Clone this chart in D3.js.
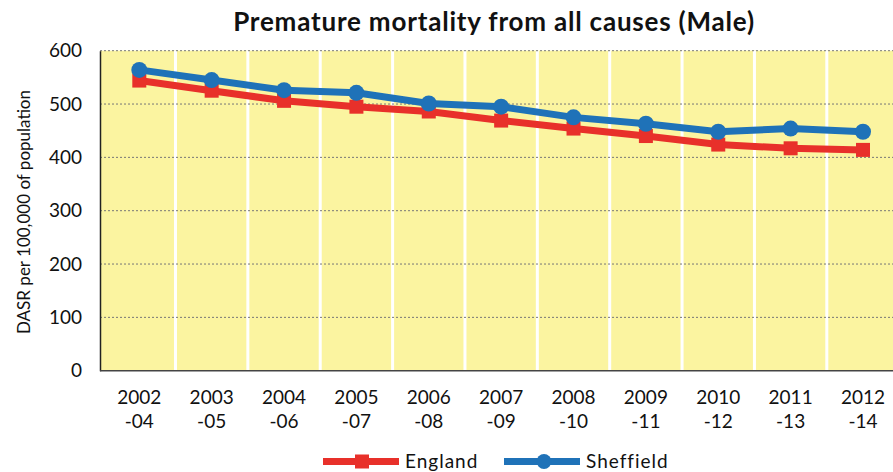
<!DOCTYPE html>
<html>
<head>
<meta charset="utf-8">
<script src="https://cdn.jsdelivr.net/npm/d3@7"></script>
<style>
  body { margin: 0; background: #fff; }
  svg { display: block; font-family: Lato, "Open Sans", sans-serif; }
</style>
</head>
<body>
<svg id="chart" width="893" height="472"></svg>
<script>
'use strict';

// chart data
var periods = ['2002-04', '2003-05', '2004-06', '2005-07', '2006-08', '2007-09', '2008-10', '2009-11', '2010-12', '2011-13', '2012-14'];
var england = [544, 525, 506, 495, 486, 469, 454, 440, 424, 417, 414];
var sheffield = [564, 545, 526, 521, 501, 495, 475, 463, 448, 454, 448];
var yTicks = [0, 100, 200, 300, 400, 500, 600];

var svg = d3.select('#chart');
var plotLeft = 100, plotRight = 900, plotTop = 50.7, plotBottom = 370.7;

var x = d3.scalePoint().domain(periods).range([139.3, 863]);
var y = d3.scaleLinear().domain([0, 600]).range([plotBottom, plotTop]);
var step = x.step();

// yellow plot background
svg.append('rect')
    .attr('x', plotLeft).attr('y', plotTop)
    .attr('width', plotRight - plotLeft).attr('height', plotBottom - plotTop)
    .attr('fill', '#fbf4a0');

// white separators between categories
svg.append('g').selectAll('line').data(periods.slice(1)).enter().append('line')
    .attr('x1', function (d) { return x(d) - step / 2; })
    .attr('x2', function (d) { return x(d) - step / 2; })
    .attr('y1', plotTop).attr('y2', plotBottom)
    .attr('stroke', '#fff').attr('stroke-width', 3);

// dotted gridlines
svg.append('g').selectAll('line').data(yTicks.slice(1)).enter().append('line')
    .attr('x1', plotLeft).attr('x2', plotRight)
    .attr('y1', function (d) { return y(d); })
    .attr('y2', function (d) { return y(d); })
    .attr('stroke', '#777').attr('stroke-width', 1).attr('stroke-dasharray', '2,2');

// y axis
var yAxis = svg.append('g').attr('transform', 'translate(' + plotLeft + ',0)')
    .call(d3.axisLeft(y).tickValues(yTicks).tickSize(0).tickPadding(18));
yAxis.select('.domain').attr('stroke', '#222').attr('stroke-width', 1.5);
yAxis.selectAll('text').attr('font-size', 19).attr('fill', '#111')
    .attr('font-family', 'Lato, sans-serif');

// x axis baseline
svg.append('line')
    .attr('x1', plotLeft).attr('x2', plotRight)
    .attr('y1', plotBottom).attr('y2', plotBottom)
    .attr('stroke', '#444').attr('stroke-width', 1.5);

// x tick labels (two lines)
var xLabels = svg.append('g').selectAll('text').data(periods).enter().append('text')
    .attr('text-anchor', 'middle')
    .attr('font-size', 19).attr('fill', '#111');
xLabels.append('tspan')
    .attr('x', function (d) { return x(d); }).attr('y', 404)
    .text(function (d) { return d.split('-')[0]; });
xLabels.append('tspan')
    .attr('x', function (d) { return x(d); }).attr('y', 428)
    .text(function (d) { return '-' + d.split('-')[1]; });

// y axis title
svg.append('text')
    .attr('transform', 'translate(30,212) rotate(-90)')
    .attr('text-anchor', 'middle').attr('font-size', 17).attr('fill', '#111')
    .text('DASR per 100,000 of population');

// title
svg.append('text')
    .attr('x', 494).attr('y', 31)
    .attr('text-anchor', 'middle').attr('font-size', 26).attr('font-weight', 'bold')
    .attr('letter-spacing', 0.8)
    .attr('fill', '#111')
    .text('Premature mortality from all causes (Male)');

var series = [
    { name: 'England', values: england, color: '#e8302a', shape: 'square' },
    { name: 'Sheffield', values: sheffield, color: '#1f72b8', shape: 'circle' }
];

var line = d3.line()
    .x(function (d, i) { return x(periods[i]); })
    .y(function (d) { return y(d); });

series.forEach(function (s) {
    var g = svg.append('g');
    g.append('path').datum(s.values)
        .attr('d', line).attr('fill', 'none')
        .attr('stroke', s.color).attr('stroke-width', 7);
    if (s.shape === 'square') {
        g.selectAll('rect').data(s.values).enter().append('rect')
            .attr('x', function (d, i) { return x(periods[i]) - 7; })
            .attr('y', function (d) { return y(d) - 7; })
            .attr('width', 14).attr('height', 14)
            .attr('fill', s.color);
    } else {
        g.selectAll('circle').data(s.values).enter().append('circle')
            .attr('cx', function (d, i) { return x(periods[i]); })
            .attr('cy', function (d) { return y(d); })
            .attr('r', 8)
            .attr('fill', s.color);
    }
});

// legend
var legendItems = [
    { x: 323, s: series[0] },
    { x: 504, s: series[1] }
];
legendItems.forEach(function (item) {
    var g = svg.append('g').attr('transform', 'translate(' + item.x + ',461.5)');
    g.append('line').attr('x1', 0).attr('x2', 76).attr('y1', 0).attr('y2', 0)
        .attr('stroke', item.s.color).attr('stroke-width', 7);
    if (item.s.shape === 'square') {
        g.append('rect').attr('x', 32).attr('y', -7).attr('width', 14).attr('height', 14)
            .attr('fill', item.s.color);
    } else {
        g.append('circle').attr('cx', 40).attr('cy', 0).attr('r', 7.5)
            .attr('fill', item.s.color);
    }
    g.append('text').attr('x', 82).attr('y', 6)
        .attr('font-size', 19).attr('letter-spacing', 1).attr('fill', '#111')
        .text(item.s.name);
});
</script>
</body>
</html>
